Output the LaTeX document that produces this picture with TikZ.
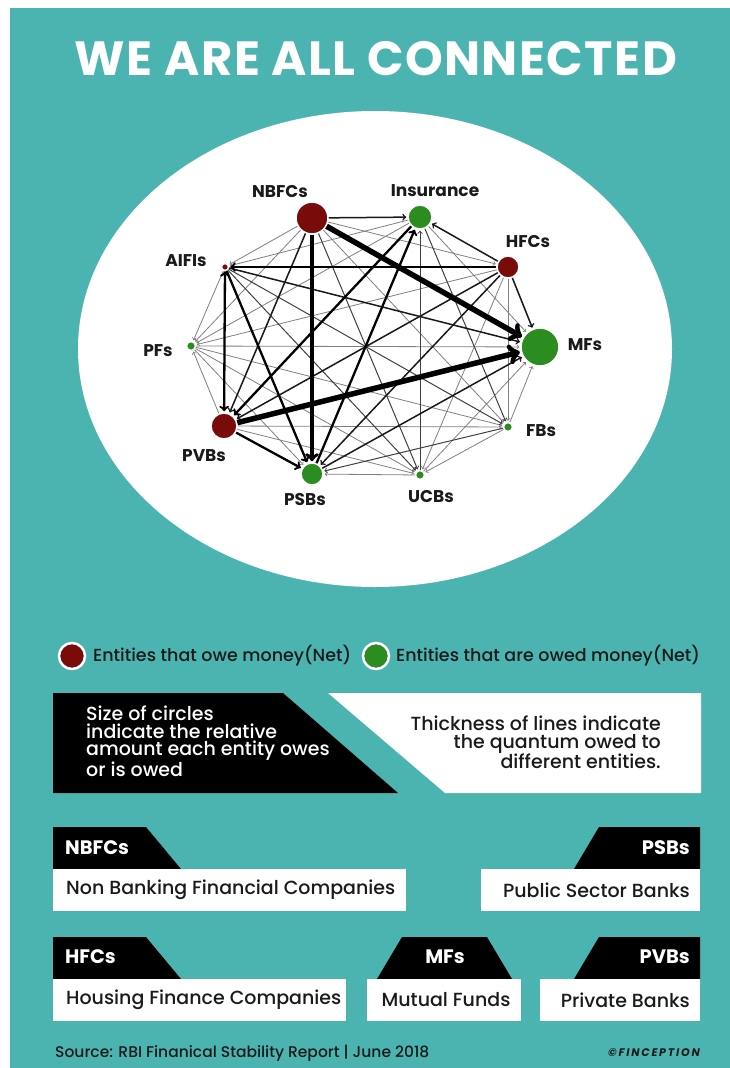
\documentclass[tikz,border=0pt]{standalone}
\usepackage{fontspec}
\setmainfont{Poppins}[UprightFont=* Medium,BoldFont=* Bold,ItalicFont=* Medium Italic,BoldItalicFont=* Bold Italic]
\definecolor{panelteal}{HTML}{4CB4B0}
\definecolor{owered}{HTML}{7A0B0B}
\definecolor{owedgreen}{HTML}{2B8C1F}
\definecolor{inkdark}{HTML}{1A1A1A}
\begin{document}
\begin{tikzpicture}[x=1pt,y=-1pt,
    entity/.style={circle,draw=white,line width=1.5pt,inner sep=0pt},
    owe/.style={entity,fill=owered},
    owed/.style={entity,fill=owedgreen},
    lbl/.style={inner sep=0pt,text=inkdark,font={\fontsize{17}{18}\selectfont\bfseries}},
    body/.style={inner sep=0pt,font={\fontsize{19}{17.4}\selectfont}},
    fullname/.style={inner sep=0pt,text=inkdark,font={\fontsize{19}{20}\selectfont}},
    tab/.style={inner sep=0pt,text=white,font={\fontsize{19.5}{20}\selectfont\bfseries}},
    faint link/.style={->,draw=black!50,line width=0.8pt,shorten >=1pt},
    light link/.style={->,draw=black!75,line width=1pt,shorten >=1pt},
    mid link/.style={->,draw=black!90,line width=1.5pt,shorten >=1pt},
    thick link/.style={->,draw=black,line width=2.3pt,shorten >=1pt},
    heavy link/.style={->,draw=black,line width=3.6pt,shorten >=1pt},
    huge link/.style={->,draw=black,line width=5.5pt,shorten >=1pt}]
  \useasboundingbox (0,0) rectangle (730,1068);
  \fill [white] (0,0) rectangle (730,1068);
  \fill [panelteal] (10,8) rectangle (730,1068);

  % title
  \node [inner sep=0pt,text=white,font={\fontsize{48}{50}\selectfont\bfseries\addfontfeature{LetterSpace=3}}] (title) at (376,59) {WE ARE ALL CONNECTED};

  % network
  \fill [white] (375,349) ellipse [x radius=297,y radius=238];

  \node [owe,minimum size=32pt] (nbfc) at (312,218) {};
  \node [owed,minimum size=24pt] (ins) at (420,217) {};
  \node [owe,minimum size=22pt] (hfc) at (508,267) {};
  \node [owed,minimum size=38pt] (mf) at (540,347) {};
  \node [owed,minimum size=9pt] (fb) at (508,427) {};
  \node [owed,minimum size=9pt] (ucb) at (420,475) {};
  \node [owed,minimum size=22pt] (psb) at (312,474) {};
  \node [owe,minimum size=26pt] (pvb) at (224,426) {};
  \node [owed,minimum size=9pt] (pf) at (191,346) {};
  \node [owe,minimum size=7pt] (aifi) at (225,267) {};

  \node [lbl] (nbfcLbl) at (280,192) {NBFCs};
  \node [lbl] (insLbl) at (435,191) {Insurance};
  \node [lbl] (hfcLbl) at (528,242) {HFCs};
  \node [lbl] (mfLbl) at (585,345) {MFs};
  \node [lbl] (fbLbl) at (541,431) {FBs};
  \node [lbl] (ucbLbl) at (431,497) {UCBs};
  \node [lbl] (psbLbl) at (305,500) {PSBs};
  \node [lbl] (pvbLbl) at (204,456) {PVBs};
  \node [lbl] (pfLbl) at (158,351) {PFs};
  \node [lbl] (aifiLbl) at (186,261) {AIFIs};

  % thin lines first
  \draw [faint link] (nbfc) -- (hfc);
  \draw [faint link] (nbfc) -- (fb);
  \draw [faint link] (nbfc) -- (pf);
  \draw [faint link] (nbfc) -- (aifi);
  \draw [faint link] (ins) -- (mf);
  \draw [faint link] (ins) -- (pf);
  \draw [faint link] (ins) -- (aifi);
  \draw [faint link] (hfc) -- (fb);
  \draw [faint link] (hfc) -- (ucb);
  \draw [faint link] (hfc) -- (pf);
  \draw [faint link] (fb) -- (mf);
  \draw [faint link] (ucb) -- (mf);
  \draw [faint link] (pf) -- (mf);
  \draw [faint link] (fb) -- (ucb);
  \draw [faint link] (pvb) -- (fb);
  \draw [faint link] (pf) -- (fb);
  \draw [faint link] (ucb) -- (psb);
  \draw [faint link] (pvb) -- (ucb);
  \draw [faint link] (pf) -- (ucb);
  \draw [faint link] (pf) -- (psb);
  \draw [faint link] (pvb) -- (pf);
  \draw [faint link] (aifi) -- (pf);

  \draw [light link] (nbfc) -- (ucb);
  \draw [light link] (ucb) -- (ins);
  \draw [light link] (ins) -- (fb);
  \draw [light link] (aifi) -- (fb);
  \draw [light link] (aifi) -- (ucb);
  \draw [light link] (fb) -- (psb);

  \draw [mid link] (nbfc) -- (ins);
  \draw [mid link] (nbfc) -- (pvb);
  \draw [mid link] (hfc) -- (ins);
  \draw [mid link] (hfc) -- (mf);
  \draw [mid link] (hfc) -- (psb);
  \draw [mid link] (hfc) -- (pvb);
  \draw [mid link] (aifi) -- (mf);
  \draw [mid link] (psb) -- (mf);

  \draw [thick link] (hfc) -- (aifi);
  \draw [thick link] (psb) -- (ins);
  \draw [thick link] (ins) -- (pvb);
  \draw [thick link] (aifi) -- (psb);
  \draw [thick link] (pvb) -- (psb);
  \draw [thick link,<->] (aifi) -- (pvb);

  \draw [heavy link] (nbfc) -- (psb);
  \draw [huge link] (nbfc) -- (mf);
  \draw [huge link] (pvb) -- (mf);

  % legend
  \node [owe,minimum size=26pt,line width=2.5pt] (oweDot) at (72,656) {};
  \node [body,anchor=west,text=inkdark,font={\fontsize{17.5}{19}\selectfont}] (oweTxt) at (93,656) {Entities that owe money(Net)};
  \node [owed,minimum size=26pt,line width=2.5pt] (owedDot) at (376,656) {};
  \node [body,anchor=west,text=inkdark,font={\fontsize{17.5}{19}\selectfont}] (owedTxt) at (396,656) {Entities that are owed money(Net)};

  \fill [black] (53,693) -- (283,693) -- (398,793) -- (53,793) -- cycle;
  \fill [white] (328,693) -- (701,693) -- (701,793) -- (445,793) -- cycle;
  \node [body,anchor=north west,align=left,text=white] (sizeNote) at (86,706) {Size of circles\\indicate the relative\\amount each entity owes\\or is owed};
  \node [body,anchor=north east,align=right,text=inkdark] (lineNote) at (661,716) {Thickness of lines indicate\\the quantum owed to\\different entities.};

  % abbreviations
  \fill [black] (53,827) -- (146,827) -- (181,869) -- (53,869) -- cycle;
  \fill [white] (53,869) rectangle (406,911);
  \node [tab,anchor=west] (nbfcTab) at (65,848) {NBFCs};
  \node [fullname,anchor=west] (nbfcName) at (66,890) {Non Banking Financial Companies};

  \fill [black] (599,827) -- (700,827) -- (700,869) -- (574,869) -- cycle;
  \fill [white] (481,869) rectangle (700,911);
  \node [tab,anchor=east] (psbTab) at (690,848) {PSBs};
  \node [fullname,anchor=east] (psbName) at (690,890) {Public Sector Banks};

  \fill [black] (53,937) -- (146,937) -- (181,979) -- (53,979) -- cycle;
  \fill [white] (53,979) rectangle (346,1021);
  \node [tab,anchor=west] (hfcTab) at (65,957) {HFCs};
  \node [fullname,anchor=west] (hfcName) at (66,1000) {Housing Finance Companies};

  \fill [black] (402,937) -- (487,937) -- (512,979) -- (377,979) -- cycle;
  \fill [white] (367,979) rectangle (521,1021);
  \node [tab] (mfTab) at (445,957) {MFs};
  \node [fullname] (mfName) at (446,1000) {Mutual Funds};

  \fill [black] (599,937) -- (700,937) -- (700,979) -- (574,979) -- cycle;
  \fill [white] (540,979) rectangle (700,1021);
  \node [tab,anchor=east] (pvbTab) at (690,957) {PVBs};
  \node [fullname,anchor=east] (pvbName) at (690,1000) {Private Banks};

  % footer
  \node [inner sep=0pt,anchor=west,text=inkdark,font={\fontsize{15.5}{16}\selectfont}] (source) at (55,1053) {Source: RBI Finanical Stability Report | June 2018};
  \node [inner sep=0pt,anchor=east,text=inkdark,font={\fontsize{11}{12}\selectfont\bfseries\itshape\addfontfeature{LetterSpace=16}}] (brand) at (700,1053) {©FINCEPTION};
\end{tikzpicture}
\end{document}
